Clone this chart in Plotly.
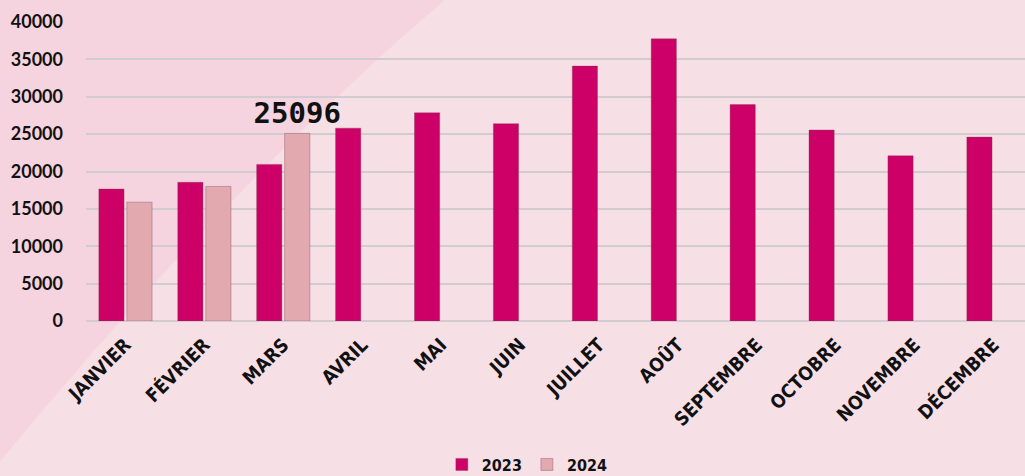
import plotly.graph_objects as go

months = ["JANVIER", "FÉVRIER", "MARS", "AVRIL", "MAI", "JUIN", "JUILLET",
          "AOÛT", "SEPTEMBRE", "OCTOBRE", "NOVEMBRE", "DÉCEMBRE"]
values_2023 = [17650, 18550, 20950, 25800, 27850, 26400, 34100, 37750, 28950, 25550, 22100, 24600]
values_2024 = [15900, 18000, 25096, None, None, None, None, None, None, None, None, None]
label_2024 = ["", "", "25096", "", "", "", "", "", "", "", "", ""]

C2023 = "#CC0066"
C2024 = "#E2A9AF"

fig = go.Figure()
fig.add_trace(go.Bar(x=months, y=values_2023, name="2023",
                     marker=dict(color=C2023, line=dict(color="rgba(120,60,80,0.35)", width=1))))
fig.add_trace(go.Bar(x=months, y=values_2024, name="2024", text=label_2024, textposition="outside",
                     constraintext="none",
                     textfont=dict(family="DejaVu Sans Mono", size=29, color="#111111", weight="bold"),
                     cliponaxis=False,
                     marker=dict(color=C2024, line=dict(color="rgba(120,60,80,0.35)", width=1))))

fig.update_layout(
    width=1025, height=476,
    margin=dict(l=86, r=0, t=22, b=155, autoexpand=False),
    paper_bgcolor="#F7DFE6",
    plot_bgcolor="rgba(0,0,0,0)",
    barmode="group", bargap=0.29, bargroupgap=0.1,
    showlegend=True,
    legend=dict(orientation="h", x=0.47, xanchor="center", y=-0.48, yanchor="middle",
                font=dict(family="DejaVu Sans Condensed", size=16, color="#111111", weight="bold"),
                bgcolor="rgba(0,0,0,0)", itemwidth=30, traceorder="normal"),
    shapes=[dict(type="path", xref="paper", yref="paper", layer="below",
                 path="M -0.0916 1.0736 L 0.382 1.0736 Q 0.15 0.45 -0.0916 -0.47 Z",
                 fillcolor="#F5D4DF", line=dict(width=0))],
)
fig.update_xaxes(range=[-0.5, 11.4], tickangle=-45, showgrid=False, showline=False, ticks="",
                 ticklabelstandoff=8, automargin=False,
                 tickfont=dict(family="DejaVu Sans Condensed", size=19, color="#111111", weight="bold"))
fig.update_yaxes(range=[0, 40000], dtick=5000, tickformat="d", showgrid=True, gridcolor="#D2CBCF", gridwidth=2,
                 zeroline=True, zerolinecolor="#D2CBCF", zerolinewidth=2, ticks="", ticklabelstandoff=22,
                 automargin=False,
                 tickfont=dict(family="Lato", size=18, color="#111111", weight="bold"))

fig.write_html("out.html")
